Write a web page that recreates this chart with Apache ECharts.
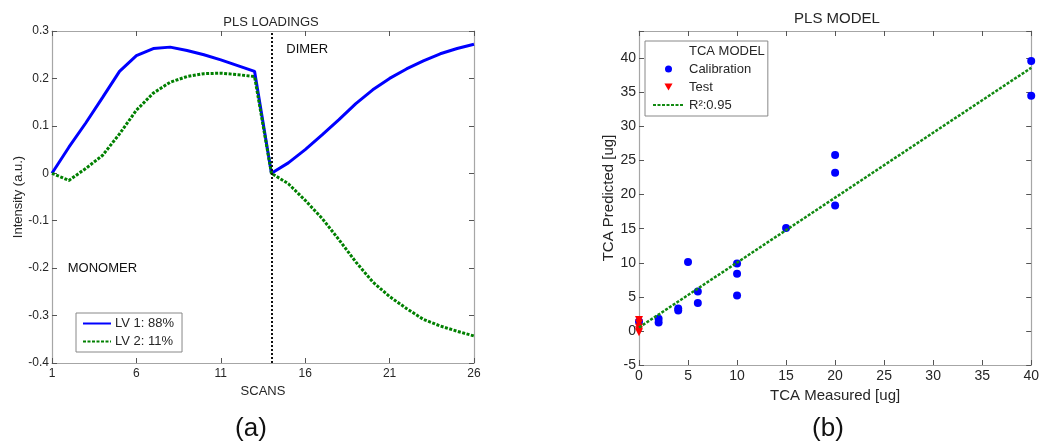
<!DOCTYPE html>
<html>
<head>
<meta charset="utf-8">
<script src="https://cdn.jsdelivr.net/npm/echarts@6/dist/echarts.min.js"></script>
<style>
html,body{margin:0;padding:0;background:#fff;}
#c{width:1042px;height:441px;}
</style>
</head>
<body>
<div id="c"></div>
<script>
// ---- Panel (a): PLS loadings ----
const scans = [1,2,3,4,5,6,7,8,9,10,11,12,13,14,15,16,17,18,19,20,21,22,23,24,25,26];
const lv1 = [0,0.055,0.106,0.16,0.215,0.248,0.263,0.266,0.259,0.25,0.239,0.227,0.215,0,0.022,0.05,0.081,0.113,0.147,0.176,0.2,0.22,0.237,0.252,0.263,0.272];
const lv2 = [0,-0.015,0.01,0.038,0.083,0.133,0.169,0.192,0.204,0.21,0.211,0.208,0.204,0,-0.022,-0.057,-0.095,-0.14,-0.187,-0.229,-0.26,-0.285,-0.308,-0.322,-0.333,-0.343];
const dividerScan = 14;
const lvNames = ['LV 1: 88%', 'LV 2: 11%'];
const regionLabels = [
  {text: 'DIMER', scan: 14.85, value: 0.262},
  {text: 'MONOMER', scan: 1.9, value: -0.2}
];

// ---- Panel (b): PLS model ----
const calibMeasured  = [0, 2, 2, 4, 4, 5, 6, 6, 10, 10, 10, 15, 20, 20, 20, 40, 40];
const calibPredicted = [1.4, 1.8, 1.25, 3.3, 3.0, 10.1, 5.8, 4.1, 9.9, 8.4, 5.2, 15.1, 25.8, 23.2, 18.4, 39.6, 34.5];
const testMeasured  = [0, 0, 0, 0, 0];
const testPredicted = [1.6, 1.1, 0.5, 0.1, -0.2];
const fitMeasured  = [0, 40];
const fitPredicted = [0.5, 38.6];
const modelNames = ['TCA MODEL', 'Calibration', 'Test', 'R\u00b2:0.95'];

const zip = (a, b) => a.map((v, i) => [v, b[i]]);

const FONT = 'Liberation Sans, Arial, sans-serif';
const TXT = '#262626';
const BOX = '#a6a6a6';
const TICK = '#555';
const BLUE = '#0000ff';
const GREEN = '#008000';
const RED = '#ff0000';

function mainAxis(extra) {
  return Object.assign({
    type: 'value',
    axisLine: {show: true, onZero: false, lineStyle: {color: BOX, width: 1.2}},
    axisTick: {show: true, inside: true, length: 5, lineStyle: {color: TICK}},
    splitLine: {show: false},
    axisLabel: {color: TXT, fontFamily: FONT, fontSize: 12},
    nameTextStyle: {color: TXT, fontFamily: FONT}
  }, extra);
}
function mirrorAxis(extra) {
  return Object.assign({
    type: 'value',
    axisLine: {show: true, onZero: false, lineStyle: {color: BOX, width: 1.2}},
    axisTick: {show: true, inside: true, length: 5, lineStyle: {color: TICK}},
    splitLine: {show: false},
    axisLabel: {show: false}
  }, extra);
}

const chart = echarts.init(document.getElementById('c'), null, {renderer: 'canvas'});

const titleStyle = (size) => ({fontFamily: FONT, fontSize: size, fontWeight: 'normal', color: TXT});

const option = {
  animation: false,
  backgroundColor: '#fff',
  textStyle: {fontFamily: FONT},
  title: [
    {text: 'PLS LOADINGS', left: 271, top: 16, textAlign: 'center', padding: 0, textStyle: titleStyle(13)},
    {text: 'PLS MODEL', left: 837, top: 11, textAlign: 'center', padding: 0, textStyle: titleStyle(15)},
    {text: '(a)', left: 251, top: 416, textAlign: 'center', padding: 0, textStyle: Object.assign(titleStyle(26), {color: '#111'})},
    {text: '(b)', left: 828, top: 416, textAlign: 'center', padding: 0, textStyle: Object.assign(titleStyle(26), {color: '#111'})}
  ],
  grid: [
    {left: 52, top: 31, width: 422, height: 332},
    {left: 639, top: 31, width: 399, height: 334}
  ],
  xAxis: [
    mainAxis({gridIndex: 0, min: 1, max: 26, interval: 5, name: 'SCANS', nameLocation: 'middle', nameGap: 18,
      nameTextStyle: {color: TXT, fontFamily: FONT, fontSize: 13}, axisLabel: {color: TXT, fontFamily: FONT, fontSize: 12, margin: 5}}),
    mirrorAxis({gridIndex: 0, position: 'top', min: 1, max: 26, interval: 5}),
    mainAxis({gridIndex: 1, min: 0, max: 40, interval: 5, name: 'TCA Measured [ug]', nameLocation: 'middle', nameGap: 18,
      nameTextStyle: {color: TXT, fontFamily: FONT, fontSize: 15}, axisLabel: {color: TXT, fontFamily: FONT, fontSize: 14, margin: 4}}),
    mirrorAxis({gridIndex: 1, position: 'top', min: 0, max: 40, interval: 5})
  ],
  yAxis: [
    mainAxis({gridIndex: 0, min: -0.4, max: 0.3, interval: 0.1, name: 'Intensity (a.u.)', nameLocation: 'middle', nameGap: 27,
      nameTextStyle: {color: TXT, fontFamily: FONT, fontSize: 13}, axisLabel: {color: TXT, fontFamily: FONT, fontSize: 12, margin: 3}}),
    mirrorAxis({gridIndex: 0, position: 'right', min: -0.4, max: 0.3, interval: 0.1}),
    mainAxis({gridIndex: 1, min: -5, max: 44, interval: 5, name: 'TCA Predicted [ug]', nameLocation: 'middle', nameGap: 22,
      nameTextStyle: {color: TXT, fontFamily: FONT, fontSize: 15},
      axisLabel: {color: TXT, fontFamily: FONT, fontSize: 14, margin: 3, formatter: v => (v % 5 === 0 ? String(v) : '')}}),
    mirrorAxis({gridIndex: 1, position: 'right', min: -5, max: 44, interval: 5})
  ],
  legend: [
    {
      orient: 'vertical', left: 76, top: 313, selectedMode: false,
      padding: [4, 8, 4, 6], itemGap: 5, itemWidth: 28, itemHeight: 13,
      borderColor: '#888', borderWidth: 1, backgroundColor: '#fff',
      textStyle: {fontFamily: FONT, fontSize: 13, color: TXT, padding: [0, 0, 0, -1]},
      data: lvNames.map(n => ({name: n, itemStyle: {opacity: 0}}))
    },
    {
      orient: 'vertical', left: 645, top: 41, selectedMode: false,
      padding: [3, 3, 4, 7], itemGap: 4, itemWidth: 31, itemHeight: 7,
      borderColor: '#888', borderWidth: 1, backgroundColor: '#fff',
      textStyle: {fontFamily: FONT, fontSize: 13, color: TXT, lineHeight: 14},
      data: [
        {name: modelNames[0], icon: 'circle', itemStyle: {opacity: 0}},
        {name: modelNames[1], icon: 'circle', itemStyle: {color: BLUE, opacity: 1}},
        {name: modelNames[2], icon: 'path://M0,0L10,0L5,8.6Z', itemStyle: {color: RED, opacity: 1}},
        {name: modelNames[3], itemStyle: {opacity: 0}}
      ]
    }
  ],
  series: [
    {
      name: lvNames[0], type: 'line', xAxisIndex: 0, yAxisIndex: 0,
      data: zip(scans, lv1), symbol: 'none',
      lineStyle: {color: BLUE, width: 3}, itemStyle: {color: BLUE},
      markLine: {
        silent: true, symbol: 'none', label: {show: false},
        lineStyle: {color: '#111', type: 'dotted', width: 2},
        data: [{xAxis: dividerScan}]
      },
      markPoint: {
        silent: true, symbol: 'circle', symbolSize: 1,
        itemStyle: {color: 'rgba(0,0,0,0)'},
        label: {show: true, position: 'right', distance: 0, color: '#111', fontFamily: FONT, fontSize: 13,
          formatter: p => p.name},
        data: regionLabels.map(r => ({name: r.text, coord: [r.scan, r.value]}))
      }
    },
    {
      name: lvNames[1], type: 'line', xAxisIndex: 0, yAxisIndex: 0,
      data: zip(scans, lv2), symbol: 'none',
      lineStyle: {color: GREEN, width: 3, type: [3, 1.5]}, itemStyle: {color: GREEN}
    },
    {
      name: modelNames[0], type: 'scatter', xAxisIndex: 2, yAxisIndex: 2, data: []
    },
    {
      name: modelNames[3], type: 'line', xAxisIndex: 2, yAxisIndex: 2,
      data: zip(fitMeasured, fitPredicted), symbol: 'none',
      lineStyle: {color: '#118a11', width: 2.5, type: [3, 1.5]}, itemStyle: {color: '#118a11'}
    },
    {
      name: modelNames[1], type: 'scatter', xAxisIndex: 2, yAxisIndex: 2, clip: false,
      data: zip(calibMeasured, calibPredicted), symbol: 'circle', symbolSize: 8,
      itemStyle: {color: BLUE, opacity: 1}
    },
    {
      name: modelNames[2], type: 'scatter', xAxisIndex: 2, yAxisIndex: 2, clip: false,
      data: zip(testMeasured, testPredicted), symbol: 'triangle', symbolSize: 8, symbolRotate: 180,
      itemStyle: {color: RED, opacity: 1}
    }
  ]
};
chart.setOption(option);
</script>
</body>
</html>
